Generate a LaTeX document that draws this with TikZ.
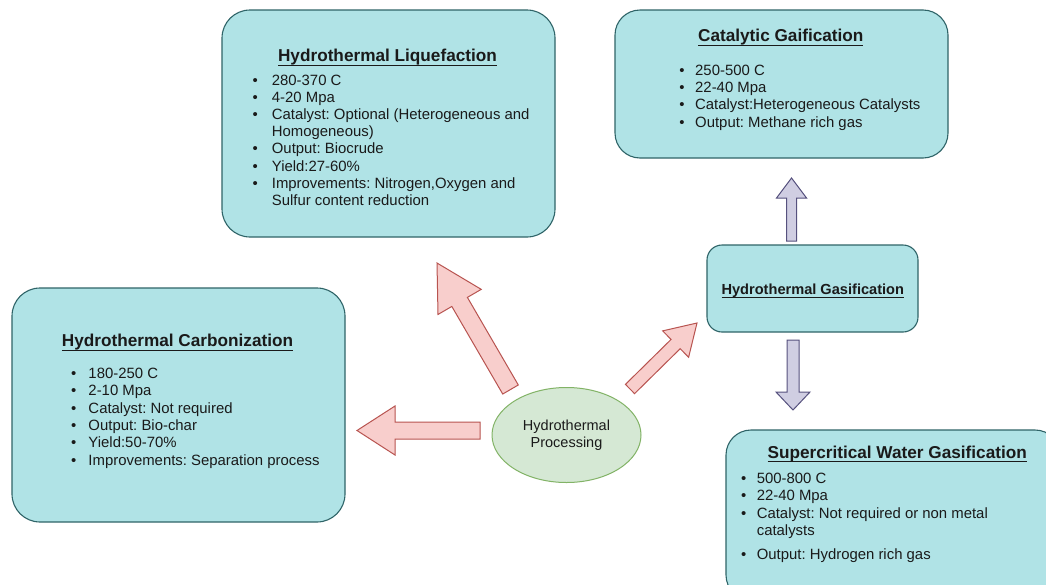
\documentclass[tikz,border=0pt]{standalone}
\usepackage{fontspec}
\setmainfont{Liberation Sans}
\usetikzlibrary{calc,shapes.geometric}

\definecolor{boxfill}{HTML}{B0E3E6}
\definecolor{boxline}{HTML}{2F6468}
\definecolor{redfill}{HTML}{F8CECC}
\definecolor{redline}{HTML}{B85450}
\definecolor{purfill}{HTML}{D0CEE2}
\definecolor{purline}{HTML}{56517E}
\definecolor{grnfill}{HTML}{D5E8D4}
\definecolor{grnline}{HTML}{82B366}
\definecolor{ink}{HTML}{1A1A1A}

\frenchspacing

% bullet with a fixed gap before the item text, and the indent of a wrapped line
\newcommand{\itm}[1]{\strut\makebox[#1][l]{\textbullet}}
\newcommand{\cnt}[1]{\strut\hspace*{#1}}
% heading with an underline close to the baseline
\newcommand{\ttl}[1]{\setbox0\hbox{#1}\rlap{\rule[-4.1pt]{\wd0}{1.2pt}}\box0}

% block arrow: style, tail, tip, shaft half width, head half width, head length
\newcommand{\blockarrow}[6]{%
  \coordinate (ba-h) at ($(#3)!#6!(#2)$);
  \draw[#1] ($(#2)!#4!90:(#3)$) -- ($(ba-h)!#4!90:(#3)$) -- ($(ba-h)!#5!90:(#3)$)
    -- (#3) -- ($(ba-h)!#5!-90:(#3)$) -- ($(ba-h)!#4!-90:(#3)$)
    -- ($(#2)!#4!-90:(#3)$) -- cycle;
}

\begin{document}
\begin{tikzpicture}[x=1pt,y=-1pt,
  box/.style={draw=boxline, fill=boxfill, line width=1.1pt, rounded corners=28pt, inner sep=0pt},
  title/.style={anchor=base, inner sep=0pt, text=ink, font=\fontsize{17.2}{20}\selectfont\bfseries},
  list/.style={anchor=north west, inner sep=0pt, align=left, text=ink, font=\fontsize{14.9}{17.3}\selectfont},
  redarrow/.style={fill=redfill, draw=redline, line width=1pt},
  purarrow/.style={fill=purfill, draw=purline, line width=1pt},
  centre/.style={ellipse, draw=grnline, fill=grnfill, line width=1pt, inner sep=0pt, align=center,
    text=ink, font=\fontsize{14.5}{16.5}\selectfont}]

\useasboundingbox (0,0) rectangle (1046,584);
\clip (0,0) rectangle (1046,584);
\fill[white] (0,0) rectangle (1046,584);

% Hydrothermal Liquefaction
\node[box, minimum width=333pt, minimum height=227pt] (htl) at (388.5,123.5) {};
\node[title] (htl-t) at (387.5,61.7) {\ttl{Hydrothermal Liquefaction}};
\node[list, font=\fontsize{14.9}{17.2}\selectfont] (htl-l) at (252.5,72.9) {%
  \itm{19.2pt}280-370 C\\
  \itm{19.2pt}4-20 Mpa\\
  \itm{19.2pt}Catalyst: Optional (Heterogeneous and\\
  \cnt{19.2pt}Homogeneous)\\
  \itm{19.2pt}Output: Biocrude\\
  \itm{19.2pt}Yield:27-60\%\\
  \itm{19.2pt}Improvements: Nitrogen,Oxygen and\\
  \cnt{19.2pt}Sulfur content reduction};

% Catalytic Gaification
\node[box, rounded corners=25pt, minimum width=333pt, minimum height=148pt] (cg) at (781.5,84) {};
\node[title] (cg-t) at (780.8,41.7) {\ttl{Catalytic Gaification}};
\node[list] (cg-l) at (679.2,62.9) {%
  \itm{15.8pt}250-500 C\\
  \itm{15.8pt}22-40 Mpa\\
  \itm{15.8pt}Catalyst:Heterogeneous Catalysts\\
  \itm{15.8pt}Output: Methane rich gas};

% Hydrothermal Carbonization
\node[box, minimum width=333pt, minimum height=234pt] (htc) at (178.5,405) {};
\node[title] (htc-t) at (177.5,346.7) {\ttl{Hydrothermal Carbonization}};
\node[list, font=\fontsize{14.9}{17.4}\selectfont] (htc-l) at (70.8,365.9) {%
  \itm{17.5pt}180-250 C\\
  \itm{17.5pt}2-10 Mpa\\
  \itm{17.5pt}Catalyst: Not required\\
  \itm{17.5pt}Output: Bio-char\\
  \itm{17.5pt}Yield:50-70\%\\
  \itm{17.5pt}Improvements: Separation process};

% Hydrothermal Gasification
\node[box, rounded corners=15pt, minimum width=211pt, minimum height=87pt] (hg) at (812.5,288.5) {};
\node[title, font=\fontsize{14.6}{17}\selectfont\bfseries] (hg-t) at (812.8,294) {\ttl{Hydrothermal Gasification}};

% Supercritical Water Gasification
\node[box, rounded corners=25pt, minimum width=334pt, minimum height=170pt] (scwg) at (893,515) {};
\node[title] (scwg-t) at (897.2,458.3) {\ttl{Supercritical Water Gasification}};
\node[list, font=\fontsize{14.9}{17.4}\selectfont] (scwg-l) at (740.8,470.9) {%
  \itm{15.8pt}500-800 C\\
  \itm{15.8pt}22-40 Mpa\\
  \itm{15.8pt}Catalyst: Not required or non metal\\
  \cnt{15.8pt}catalysts\\[7pt]
  \itm{15.8pt}Output: Hydrogen rich gas};

% Hydrothermal Processing
\node[centre, minimum width=149pt, minimum height=95pt] (hp) at (566.5,435) {Hydrothermal\\Processing};

% arrow end points
\coordinate (a1s) at (480,430.5);   \coordinate (a1e) at (357,430.5);
\coordinate (a2s) at (510.5,389.5); \coordinate (a2e) at (437,263);
\coordinate (a3s) at (630,389);     \coordinate (a3e) at (697,323);
\coordinate (a4s) at (791.5,241);   \coordinate (a4e) at (791.5,178);
\coordinate (a5s) at (793,340);     \coordinate (a5e) at (793,410);

\blockarrow{redarrow}{a1s}{a1e}{8.5pt}{24.5pt}{38pt}
\blockarrow{redarrow}{a2s}{a2e}{9pt}{25pt}{45pt}
\blockarrow{redarrow}{a3s}{a3e}{6.5pt}{18.5pt}{30pt}
\blockarrow{purarrow}{a4s}{a4e}{5pt}{15pt}{20pt}
\blockarrow{purarrow}{a5s}{a5e}{6pt}{17pt}{18pt}

\end{tikzpicture}
\end{document}
